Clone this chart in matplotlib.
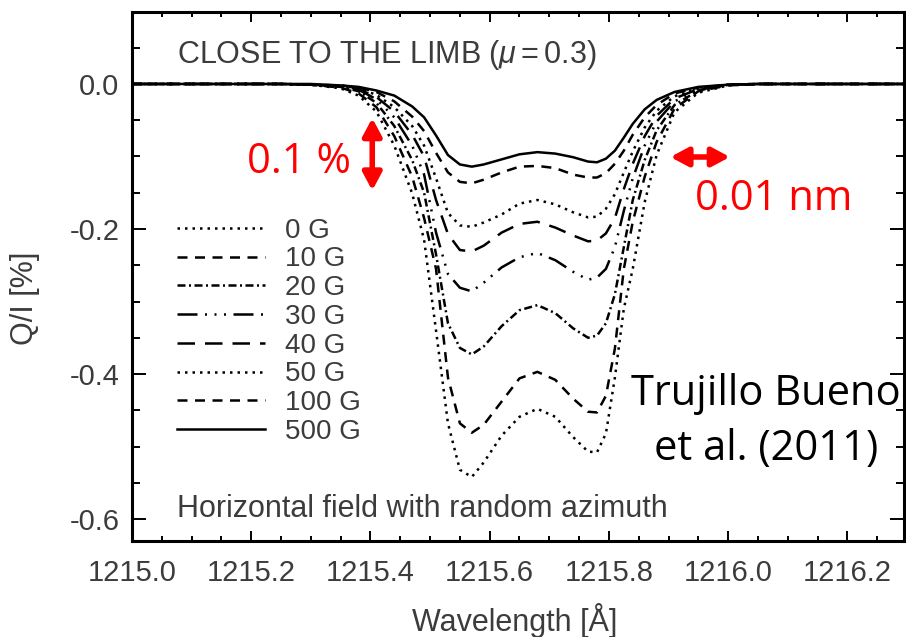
import matplotlib
matplotlib.use('Agg')
import matplotlib.pyplot as plt
from matplotlib.ticker import MultipleLocator, FuncFormatter

plt.rcParams['font.family'] = 'Liberation Sans'
plt.rcParams['mathtext.fontset'] = 'custom'
plt.rcParams['mathtext.it'] = 'Liberation Sans:italic'
plt.rcParams['mathtext.rm'] = 'Liberation Sans'
plt.rcParams['axes.unicode_minus'] = False

# wavelength grid (Angstrom) and Q/I (%)
wavelength = [1215.00, 1215.25, 1215.30, 1215.35, 1215.38, 1215.41, 1215.44, 1215.47,
              1215.49, 1215.51, 1215.53, 1215.55, 1215.57, 1215.59, 1215.62, 1215.65,
              1215.68, 1215.71, 1215.74, 1215.765, 1215.78, 1215.795, 1215.81, 1215.825,
              1215.84, 1215.86, 1215.88, 1215.91, 1215.95, 1216.00, 1216.05, 1216.30]

q_0G = [0.0, 0.0, -0.001, -0.006, -0.016, -0.038, -0.085, -0.151,
        -0.215, -0.340, -0.468, -0.532, -0.542, -0.522, -0.485, -0.459,
        -0.448, -0.459, -0.487, -0.507, -0.508, -0.482, -0.405, -0.310,
        -0.255, -0.163, -0.098, -0.039, -0.012, -0.002, 0.0, 0.0]
q_10G = [0.0, 0.0, -0.001, -0.005, -0.013, -0.032, -0.072, -0.128,
         -0.185, -0.255, -0.405, -0.468, -0.481, -0.470, -0.438, -0.406,
         -0.397, -0.408, -0.434, -0.452, -0.453, -0.430, -0.365, -0.255,
         -0.190, -0.128, -0.080, -0.034, -0.010, -0.002, 0.0, 0.0]
q_20G = [0.0, 0.0, -0.001, -0.004, -0.010, -0.026, -0.058, -0.105,
         -0.150, -0.235, -0.330, -0.364, -0.373, -0.362, -0.334, -0.312,
         -0.305, -0.316, -0.337, -0.350, -0.347, -0.330, -0.290, -0.225,
         -0.160, -0.105, -0.064, -0.029, -0.009, -0.001, 0.0, 0.0]
q_30G = [0.0, 0.0, -0.001, -0.003, -0.008, -0.021, -0.046, -0.085,
         -0.125, -0.205, -0.262, -0.281, -0.286, -0.274, -0.253, -0.239,
         -0.233, -0.243, -0.259, -0.270, -0.267, -0.255, -0.225, -0.175,
         -0.130, -0.085, -0.052, -0.024, -0.008, -0.001, 0.0, 0.0]
q_40G = [0.0, 0.0, -0.001, -0.003, -0.007, -0.018, -0.038, -0.070,
         -0.100, -0.160, -0.207, -0.229, -0.231, -0.223, -0.205, -0.193,
         -0.190, -0.198, -0.209, -0.217, -0.216, -0.206, -0.185, -0.145,
         -0.110, -0.072, -0.044, -0.020, -0.007, -0.001, 0.0, 0.0]
q_50G = [0.0, 0.0, -0.001, -0.002, -0.006, -0.015, -0.032, -0.058,
         -0.085, -0.130, -0.178, -0.195, -0.197, -0.191, -0.180, -0.165,
         -0.160, -0.166, -0.177, -0.184, -0.183, -0.172, -0.152, -0.122,
         -0.093, -0.060, -0.037, -0.017, -0.006, -0.001, 0.0, 0.0]
q_100G = [0.0, 0.0, -0.001, -0.002, -0.005, -0.011, -0.024, -0.045,
          -0.065, -0.095, -0.122, -0.135, -0.137, -0.132, -0.122, -0.114,
          -0.113, -0.116, -0.125, -0.129, -0.129, -0.123, -0.110, -0.092,
          -0.070, -0.046, -0.029, -0.013, -0.005, -0.001, 0.0, 0.0]
q_500G = [0.0, 0.0, 0.0, -0.002, -0.004, -0.009, -0.016, -0.031,
          -0.046, -0.071, -0.098, -0.111, -0.114, -0.111, -0.104, -0.097,
          -0.094, -0.096, -0.101, -0.107, -0.108, -0.103, -0.092, -0.074,
          -0.055, -0.035, -0.022, -0.011, -0.004, -0.001, 0.0, 0.0]

curves = [q_0G, q_10G, q_20G, q_30G, q_40G, q_50G, q_100G, q_500G]
labels = ['0 G', '10 G', '20 G', '30 G', '40 G', '50 G', '100 G', '500 G']
styles = [(0, (1, 2)), (0, (4, 3)), (0, (3.2, 1.4, 0.8, 1.4)),
          (0, (8, 3, 0.8, 3, 0.8, 3, 0.8, 3)), (0, (7, 4)),
          (0, (1, 2)), (0, (4, 3)), '-']

# scale bars (red)
bar_v = (1215.403, -0.047, -0.147)
bar_h = (1215.903, 1216.003, -0.1007)

gray = '#3c3c3c'

fig = plt.figure(figsize=(9.06, 6.37), dpi=100)
ax = fig.add_axes([0.1457, 0.1507, 0.8521, 0.8305])

for q, lab, ls in zip(curves, labels, styles):
    ax.plot(wavelength, q, color='black', lw=1.8, linestyle=ls, label=lab)

ax.set_xlim(1215.0, 1216.295)
ax.set_ylim(-0.6303, 0.0993)
ax.xaxis.set_major_locator(MultipleLocator(0.2))
ax.xaxis.set_minor_locator(MultipleLocator(0.05))
ax.yaxis.set_major_locator(MultipleLocator(0.2))
ax.yaxis.set_minor_locator(MultipleLocator(0.05))
ax.xaxis.set_major_formatter(FuncFormatter(lambda v, p: f'{v:.1f}'))
ax.yaxis.set_major_formatter(FuncFormatter(lambda v, p: f'{v:.1f}'.replace('-0.0', '0.0')))

ax.tick_params(which='both', direction='in', top=True, right=True,
               colors='black', labelcolor=gray, labelsize=21)
ax.tick_params(axis='x', which='major', length=7.2, width=1.4, pad=13)
ax.tick_params(axis='x', which='minor', length=3.6, width=1.4)
ax.tick_params(axis='y', which='major', length=10, width=1.4, pad=9)
ax.tick_params(axis='y', which='minor', length=5.8, width=1.4)
for s in ax.spines.values():
    s.set_linewidth(2.2)

leg = ax.legend(loc='upper left', bbox_to_anchor=(0.0583, 0.6115), frameon=False,
                fontsize=20, handlelength=3.17, handletextpad=0.7,
                labelspacing=0.10, borderpad=0, borderaxespad=0)
for t in leg.get_texts():
    t.set_color(gray)

ax.text(0.0583, 0.904, r'CLOSE TO THE LIMB ($\mu=$0.3)', transform=ax.transAxes,
        fontsize=22, color=gray, va='baseline', ha='left')
ax.text(0.0583, 0.046, 'Horizontal field with random azimuth', transform=ax.transAxes,
        fontsize=22, color=gray, va='baseline', ha='left')

fig.text(25 / 906, 1 - 298 / 637, 'Q/I [%]', rotation=90, ha='center', va='center',
         fontsize=22, color=gray)
fig.text(515 / 906, 1 - 620 / 637, 'Wavelength [Å]', ha='center', va='center',
         fontsize=22, color=gray)

# red annotations
arrow = dict(arrowstyle='<|-|>,head_length=0.75,head_width=0.4', color='red',
             lw=4, shrinkA=0, shrinkB=0, mutation_scale=14)
ax.annotate('', xy=(bar_v[0], bar_v[1]), xytext=(bar_v[0], bar_v[2]), arrowprops=arrow)
ax.annotate('', xy=(bar_h[1], bar_h[2]), xytext=(bar_h[0], bar_h[2]), arrowprops=arrow)
ax.text(1215.193, -0.1228, '0.1 %', color='red', fontsize=30, family='Open Sans',
        ha='left', va='baseline')
ax.text(1215.9446, -0.1738, '0.01 nm', color='red', fontsize=30, family='Open Sans',
        ha='left', va='baseline')

ax.text(1216.064, -0.4428, 'Trujillo Bueno', color='black', fontsize=30,
        family='Open Sans', ha='center', va='baseline')
ax.text(1216.064, -0.5186, 'et al. (2011)', color='black', fontsize=30,
        family='Open Sans', ha='center', va='baseline')

fig.savefig('out.png', dpi=100)
